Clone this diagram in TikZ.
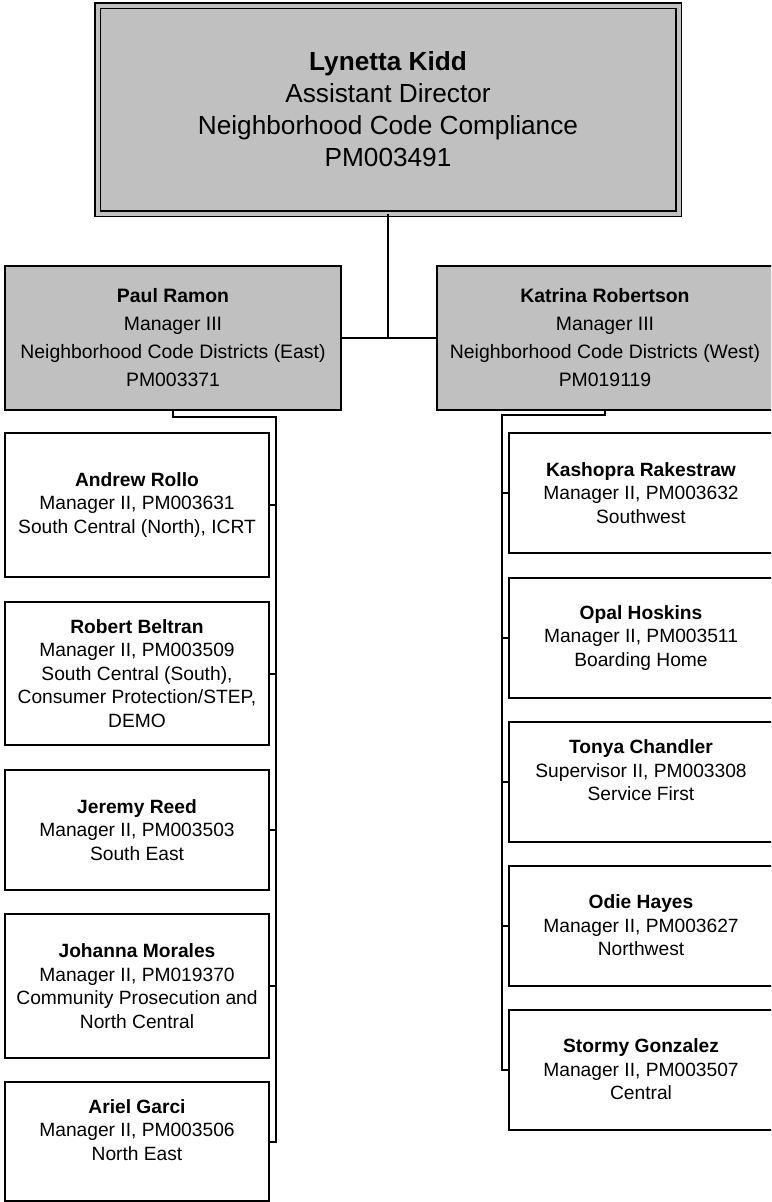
\documentclass[tikz,border=0pt]{standalone}
\usepackage{fontspec}
\setmainfont{Liberation Sans}
\definecolor{boxgray}{RGB}{192,192,192}

\begin{document}
\begin{tikzpicture}[x=1pt,y=-1pt,
	head/.style={draw, fill=boxgray, double=boxgray, double distance=4pt, line width=1.3pt, minimum width=581pt, minimum height=208pt, inner sep=0pt, align=center, font=\fontsize{26.2}{32}\selectfont},
	mgr/.style={draw, fill=boxgray, line width=2pt, minimum width=336pt, minimum height=144pt, inner sep=0pt, align=center, font=\fontsize{19.4}{28}\selectfont},
	unit/.style={draw, line width=2pt, minimum width=264pt, inner sep=0pt, align=center, font=\fontsize{19.2}{23.5}\selectfont},
	link/.style={line width=2pt}]
			\clip (0,0) rectangle (771,1202);

			\node	(a) at (388,109.5) [head] {\textbf{Lynetta Kidd}\\Assistant Director\\Neighborhood Code Compliance\\PM003491};
			\node	(b) at (173,338) [mgr] {\textbf{Paul Ramon}\\Manager III\\Neighborhood Code Districts (East)\\PM003371};
			\node	(c) at (605,338) [mgr] {\textbf{Katrina Robertson}\\Manager III\\Neighborhood Code Districts (West)\\PM019119};

			\node	(e1) at (137,505) [unit, minimum height=144pt] {\textbf{Andrew Rollo}\\Manager II, PM003631\\South Central (North), ICRT};
			\node	(e2) at (137,673.5) [unit, minimum height=143pt] {\textbf{Robert Beltran}\\Manager II, PM003509\\South Central (South),\\Consumer Protection/STEP,\\DEMO};
			\node	(e3) at (137,830) [unit, minimum height=120pt] {\textbf{Jeremy Reed}\\Manager II, PM003503\\South East};
			\node	(e4) at (137,986) [unit, minimum height=144pt] {\textbf{Johanna Morales}\\Manager II, PM019370\\Community Prosecution and\\North Central};
			\node	(e5) at (137,1141.5) [unit, minimum height=119pt] {\textbf{Ariel Garci}\\Manager II, PM003506\\North East\\\mbox{}};

			\node	(w1) at (641,493) [unit, minimum height=120pt] {\textbf{Kashopra Rakestraw}\\Manager II, PM003632\\Southwest};
			\node	(w2) at (641,638) [unit, minimum height=120pt] {\textbf{Opal Hoskins}\\Manager II, PM003511\\Boarding Home};
			\node	(w3) at (641,782) [unit, minimum height=120pt] {\textbf{Tonya Chandler}\\Supervisor II, PM003308\\Service First\\\mbox{}};
			\node	(w4) at (641,925.5) [unit, minimum height=120pt] {\textbf{Odie Hayes}\\Manager II, PM003627\\Northwest};
			\node	(w5) at (641,1069.5) [unit, minimum height=120pt] {\textbf{Stormy Gonzalez}\\Manager II, PM003507\\Central};

			\coordinate (eb) at (276,417);
			\coordinate (wb) at (502,415);

			\draw[link] (a.south) -- (a.south |- b.east);
			\draw[link] (b.east) -- (c.west);
			\draw[link] (b.south) |- (eb) -- (eb |- e5.east) -- (e5.east);
			\foreach \n in {e1,e2,e3,e4}
				\draw[link] (\n.east) -- (\n.east -| eb);
			\draw[link] (c.south) |- (wb) -- (wb |- w5.west) -- (w5.west);
			\foreach \n in {w1,w2,w3,w4}
				\draw[link] (\n.west) -- (\n.west -| wb);
		\end{tikzpicture}
\end{document}
